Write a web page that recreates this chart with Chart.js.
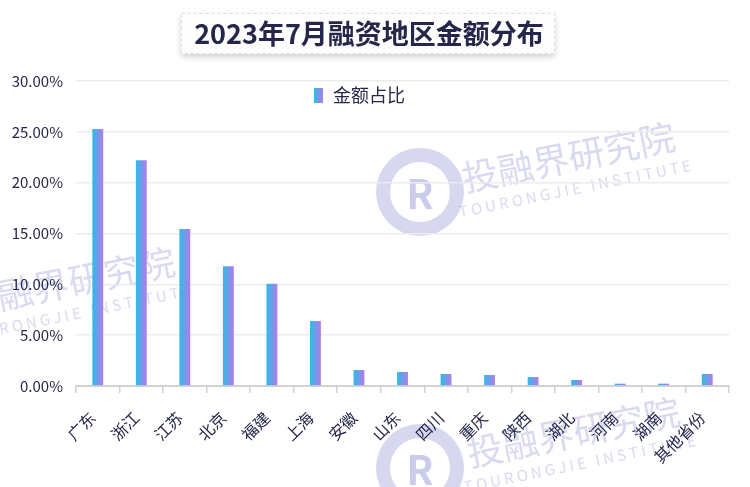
<!DOCTYPE html>
<html>
<head>
<meta charset="utf-8">
<script src="https://cdn.jsdelivr.net/npm/chart.js@4.4.1/dist/chart.umd.min.js"></script>
<style>
	html, body { margin: 0; padding: 0; background: #fff; }
	#wrap { width: 750px; height: 487px; position: relative; }
</style>
</head>
<body>
<div id="wrap"><canvas id="chart1"></canvas></div>
<script>
// data
const regions = ['广东', '浙江', '江苏', '北京', '福建', '上海', '安徽', '山东', '四川', '重庆', '陕西', '湖北', '河南', '湖南', '其他省份'];
const shares = [25.28, 22.2, 15.44, 11.77, 10.06, 6.39, 1.57, 1.38, 1.18, 1.08, 0.88, 0.59, 0.23, 0.23, 1.18];
const seriesName = '金额占比';
const chartTitle = '2023年7月融资地区金额分布';

const FONT = '"Noto Sans CJK SC", "Noto Sans", sans-serif';
const TEXT = '#26264a';
const CYAN = '#25c0e8';
const PURPLE = '#bb77ea';

//gradient for each bar, left cyan -> right purple
function barGradient(context) {
	let chart = context.chart;
	let x = chart.scales.x;
	if(!x || context.dataIndex == null) return CYAN;
	let cx = x.getPixelForValue(context.dataIndex);
	if(!isFinite(cx)) return CYAN;
	let g = chart.ctx.createLinearGradient(cx - 6, 0, cx + 6, 0);
	g.addColorStop(0, CYAN);
	g.addColorStop(1, PURPLE);
	return g;
}

//watermark + title box + legend
const decorations = {
	id: 'decorations',
	beforeDraw(chart) {
		const {ctx} = chart;
		ctx.save();
		// watermark
		const marks = [
			{x: 570, y: 165, logo: {x: 420, y: 192}},
			{x: 70, y: 290, logo: null},
			{x: 575, y: 440, logo: {x: 420, y: 468}}
		];
		marks.forEach(m => {
			if(m.logo) {
				ctx.beginPath();
				ctx.arc(m.logo.x, m.logo.y, 44, 0, Math.PI * 2);
				ctx.fillStyle = 'rgba(175,175,225,0.5)';
				ctx.fill();
				ctx.beginPath();
				ctx.arc(m.logo.x, m.logo.y, 30, 0, Math.PI * 2);
				ctx.fillStyle = '#fff';
				ctx.fill();
				ctx.font = 'bold 40px ' + FONT;
				ctx.fillStyle = 'rgba(175,175,225,0.65)';
				ctx.textAlign = 'center';
				ctx.textBaseline = 'middle';
				ctx.fillText('R', m.logo.x, m.logo.y + 2);
			}
			ctx.save();
			ctx.translate(m.x, m.y);
			ctx.rotate(-0.2);
			ctx.textAlign = 'center';
			ctx.textBaseline = 'middle';
			ctx.fillStyle = 'rgba(170,170,225,0.45)';
			ctx.font = '36px ' + FONT;
			ctx.fillText('投融界研究院', 0, -8);
			ctx.font = '15px ' + FONT;
			ctx.fillText('T O U R O N G J I E   I N S T I T U T E', 0, 24);
			ctx.restore();
		});
		ctx.restore();
	},
	afterDraw(chart) {
		const {ctx} = chart;
		ctx.save();
		// title box
		ctx.shadowColor = 'rgba(0,0,0,0.18)';
		ctx.shadowBlur = 6;
		ctx.shadowOffsetY = 3;
		ctx.fillStyle = '#fdfdfd';
		ctx.fillRect(181, 13, 374, 41);
		ctx.shadowColor = 'transparent';
		ctx.setLineDash([3, 3]);
		ctx.strokeStyle = '#dddddd';
		ctx.strokeRect(181.5, 13.5, 373, 40);
		ctx.setLineDash([]);
		ctx.font = 'bold 27px ' + FONT;
		ctx.fillStyle = TEXT;
		ctx.textAlign = 'center';
		ctx.textBaseline = 'middle';
		ctx.fillText(chartTitle, 369, 34);
		// legend
		let g = ctx.createLinearGradient(314, 0, 324, 0);
		g.addColorStop(0, CYAN);
		g.addColorStop(1, PURPLE);
		ctx.fillStyle = g;
		ctx.fillRect(314, 88, 9, 15);
		ctx.font = '18px ' + FONT;
		ctx.fillStyle = TEXT;
		ctx.textAlign = 'left';
		ctx.fillText(seriesName, 333, 95);
		ctx.restore();
	}
};

let config = {
	type: 'bar',
	data: {
		labels: regions,
		datasets: [{
			label: seriesName,
			data: shares,
			backgroundColor: barGradient,
			borderWidth: 0,
			categoryPercentage: 1,
			barPercentage: 0.25
		}]
	},
	options: {
		responsive: false,
		animation: false,
		devicePixelRatio: 1,
		layout: {
			padding: {top: 81, right: 21, bottom: 0, left: 0}
		},
		plugins: {
			legend: {display: false},
			title: {display: false},
			tooltip: {enabled: false}
		},
		scales: {
			x: {
				offset: true,
				afterFit: s => { s.height = 101; },
				grid: {
					offset: true,
					drawOnChartArea: false,
					drawTicks: true,
					tickLength: 7,
					color: '#d2d2d2',
					lineWidth: 1.5
				},
				border: {color: '#d2d2d2', width: 2},
				ticks: {
					autoSkip: false,
					minRotation: 45,
					maxRotation: 45,
					padding: 15,
					labelOffset: -5,
					color: TEXT,
					font: {family: FONT, size: 16}
				}
			},
			y: {
				min: 0,
				max: 30,
				afterFit: s => { s.width = 76; },
				grid: {color: '#ececec', lineWidth: 1.5, drawTicks: false},
				border: {display: false},
				ticks: {
					stepSize: 5,
					padding: 13,
					color: TEXT,
					font: {family: FONT, size: 15},
					callback: v => v.toFixed(2) + '%'
				}
			}
		}
	},
	plugins: [decorations]
};

const canvas = document.getElementById('chart1');
canvas.width = 750;
canvas.height = 487;
window.chart1 = new Chart(canvas, config);
</script>
</body>
</html>
